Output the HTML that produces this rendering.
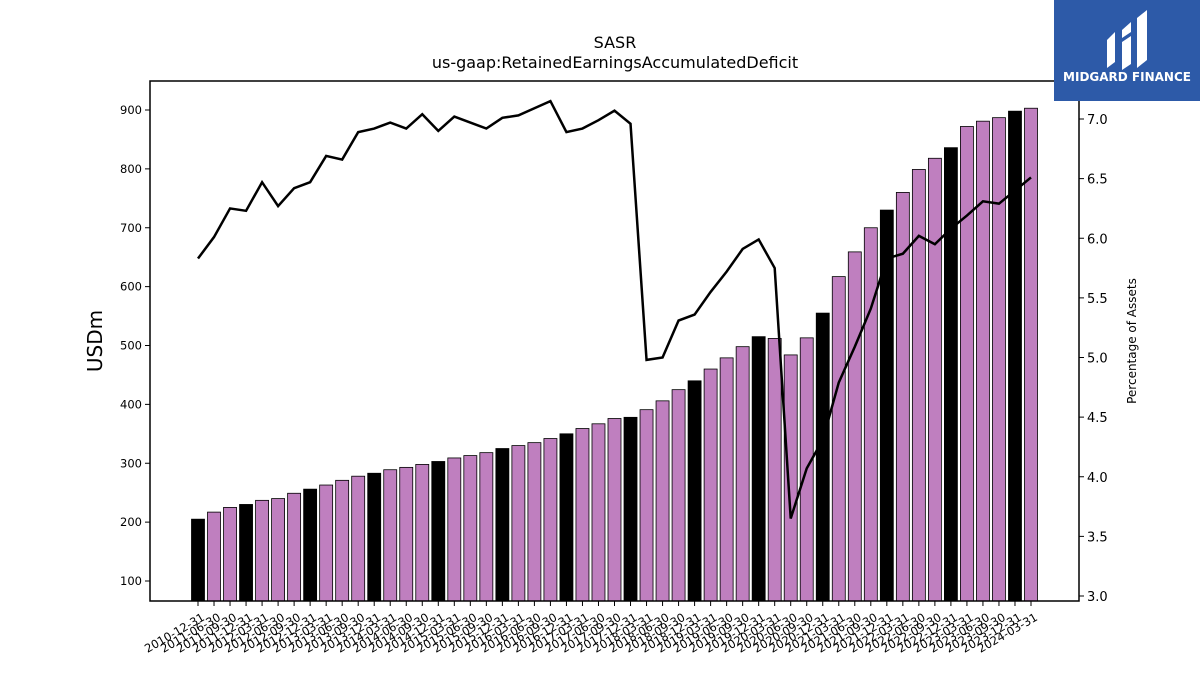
<!DOCTYPE html>
<html><head><meta charset="utf-8">
<style>
body{margin:0;background:#fff;width:1200px;height:675px;overflow:hidden;font-family:"Liberation Sans","DejaVu Sans",sans-serif;}
svg text{font-family:"DejaVu Sans","Liberation Sans",sans-serif;}
</style></head>
<body>
<svg id="chart" width="1200" height="675" xmlns="http://www.w3.org/2000/svg">
<text x="615" y="48" font-size="16" text-anchor="middle">SASR</text>
<text x="615" y="68" font-size="16" text-anchor="middle">us-gaap:RetainedEarningsAccumulatedDeficit</text>
<text x="102" y="341" font-size="20" text-anchor="middle" transform="rotate(-90 102 341)">USDm</text>
<text x="1136" y="341" font-size="12" text-anchor="middle" transform="rotate(-90 1136 341)">Percentage of Assets</text>
<g id="bars"></g>
<g id="line"></g>
<g id="axes"></g>
<rect x="150" y="81" width="929" height="520" fill="none" stroke="#000" stroke-width="1.5"/>
<g>
<rect x="1054" y="0" width="146" height="101" fill="#2d5aa8"/>
<path d="M1107 40 l8 -8 v30 l-8 6z M1122 30 l9 -8 v10 l-9 6z M1122 42 l9 -6 v28 l-9 6z M1137 18 l10 -8 v50 l-10 8z" fill="#fff"/>
<text x="1127" y="81" font-size="12" font-weight="bold" fill="#fff" text-anchor="middle">MIDGARD FINANCE</text>
</g>
</svg>
<script>
const categories=["2010-12-31","2011-06-30","2011-09-30","2011-12-31","2012-03-31","2012-06-30","2012-09-30","2012-12-31","2013-03-31","2013-06-30","2013-09-30","2013-12-31","2014-03-31","2014-06-30","2014-09-30","2014-12-31","2015-03-31","2015-06-30","2015-09-30","2015-12-31","2016-03-31","2016-06-30","2016-09-30","2016-12-31","2017-03-31","2017-06-30","2017-09-30","2017-12-31","2018-03-31","2018-06-30","2018-09-30","2018-12-31","2019-03-31","2019-06-30","2019-09-30","2019-12-31","2020-03-31","2020-06-30","2020-09-30","2020-12-31","2021-03-31","2021-06-30","2021-09-30","2021-12-31","2022-03-31","2022-06-30","2022-09-30","2022-12-31","2023-03-31","2023-06-30","2023-09-30","2023-12-31","2024-03-31"];
const values=[205,217,225,230,237,240,249,256,263,271,278,283,289,293,298,303,309,313,318,325,330,335,342,350,359,367,376,378,391,406,425,440,460,479,498,515,512,484,513,555,617,659,700,730,760,799,818,836,872,881,887,898,903];
const pct=[5.83,6.01,6.25,6.23,6.47,6.27,6.42,6.47,6.69,6.66,6.89,6.92,6.97,6.92,7.04,6.90,7.02,6.97,6.92,7.01,7.03,7.09,7.15,6.89,6.92,6.99,7.07,6.96,4.98,5.00,5.31,5.36,5.55,5.72,5.91,5.99,5.75,3.65,4.07,4.31,4.79,5.09,5.41,5.83,5.87,6.02,5.95,6.08,6.19,6.31,6.29,6.40,6.51];
const leftTicks=[100,200,300,400,500,600,700,800,900];
const rightTicks=[3.0,3.5,4.0,4.5,5.0,5.5,6.0,6.5,7.0];
const NS="http://www.w3.org/2000/svg";
const x=i=>198+i*(1031-198)/(categories.length-1);
const y=v=>581-(v-100)*(471/800);
const y2=p=>596-(p-3)*119.25;
const bars=document.getElementById('bars'),line=document.getElementById('line'),axes=document.getElementById('axes');
function mk(t,a,p){const e=document.createElementNS(NS,t);for(const k in a)e.setAttribute(k,a[k]);p.appendChild(e);return e;}
values.forEach((v,i)=>{
 const dec=categories[i].slice(5,7)==="12";
 const r=mk('rect',{x:x(i)-6.5,y:y(v),width:13,height:601-y(v),fill:dec?'#000':'#bf7fbf',stroke:'#000','stroke-width':0.8},bars);
 
 
 const tk=mk('line',{x1:x(i),x2:x(i),y1:601,y2:606,stroke:'#000'},axes);
 
 
 const tx=x(i)+3,ty=612;
 const t=mk('text',{x:tx,y:ty,'font-size':11.5,'text-anchor':'end',transform:`rotate(-30 ${tx} ${ty})`,'dominant-baseline':'hanging'},axes);
 t.textContent=categories[i];
 
 
});
const pl=mk('polyline',{points:pct.map((p,i)=>x(i)+','+y2(p)).join(' '),fill:'none',stroke:'#000','stroke-width':2.5},line);


leftTicks.forEach(v=>{
 const l=mk('line',{x1:145,x2:150,y1:y(v),y2:y(v),stroke:'#000'},axes);
 
 
 const t=mk('text',{x:142,y:y(v)+4,'font-size':11.5,'text-anchor':'end'},axes);
 t.textContent=v;
 
 
});
rightTicks.forEach(p=>{
 const l=mk('line',{x1:1079,x2:1084,y1:y2(p),y2:y2(p),stroke:'#000'},axes);
 
 
 const t=mk('text',{x:1087,y:y2(p)+5,'font-size':13},axes);
 t.textContent=p.toFixed(1);
 
 
});
</script>
</body></html>
